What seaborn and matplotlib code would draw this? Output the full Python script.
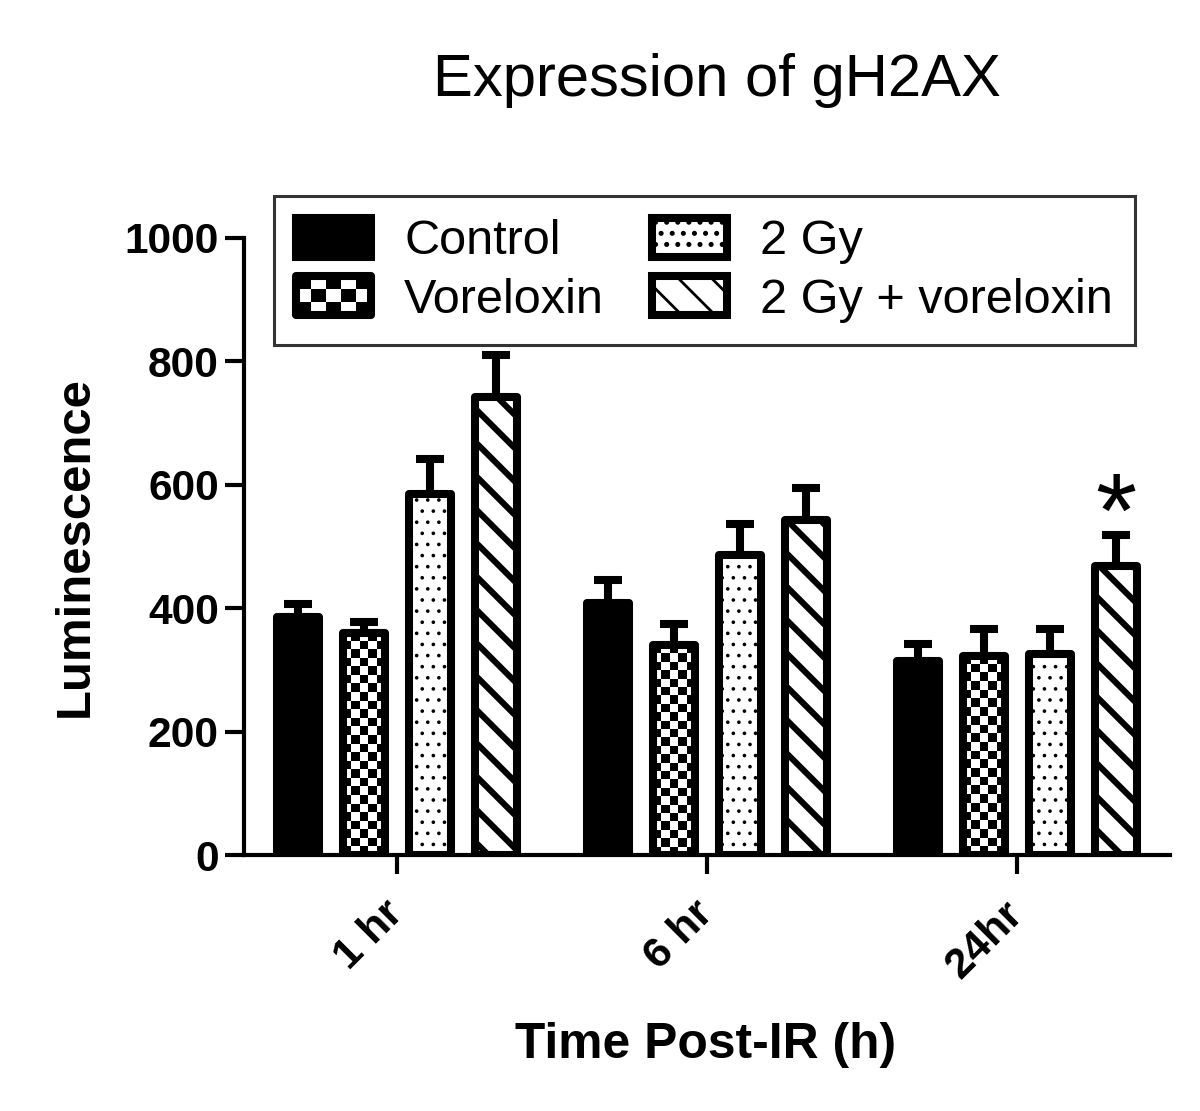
import numpy as np
import pandas as pd
import matplotlib
matplotlib.use("Agg")
import matplotlib.pyplot as plt
import seaborn as sns
from matplotlib.patches import Patch, Rectangle
from matplotlib.legend_handler import HandlerBase

# data (mean, SEM)
times = ["1 hr", "6 hr", "24hr"]
groups = ["Control", "Voreloxin", "2 Gy", "2 Gy + voreloxin"]
control_mean = [385, 408, 315]
control_sem = [22, 38, 27]
vorelox_mean = [360, 340, 323]
vorelox_sem = [17, 35, 44]
gy2_mean = [585, 487, 325]
gy2_sem = [57, 50, 42]
combo_mean = [742, 543, 468]
combo_sem = [68, 52, 50]
yticks = [0, 200, 400, 600, 800, 1000]

means = [control_mean, vorelox_mean, gy2_mean, combo_mean]
sems = [control_sem, vorelox_sem, gy2_sem, combo_sem]

rows = []
for g, m in zip(groups, means):
    for t, v in zip(times, m):
        rows.append({"time": t, "group": g, "mean": v})
df = pd.DataFrame(rows)

sns.set_style("ticks")
plt.rcParams["font.family"] = ["Liberation Sans", "DejaVu Sans"]
plt.rcParams.update({"text.color": "black", "axes.labelcolor": "black",
                     "xtick.color": "black", "ytick.color": "black",
                     "axes.edgecolor": "black"})

EDGE_LW = 2.9
# dpi 200 so the hatch cell (1 inch) gives roughly the stripe spacing of the original
fig = plt.figure(figsize=(6, 5.555), dpi=200)
ax = fig.add_axes([0.2033, 0.2304, 0.7717, 0.5554])

palette = {"Control": "black", "Voreloxin": "white", "2 Gy": "white",
           "2 Gy + voreloxin": "white"}
sns.barplot(data=df, x="time", y="mean", hue="group", hue_order=groups,
            palette=palette, width=0.852, gap=0.366, errorbar=None,
            edgecolor="black", linewidth=EDGE_LW, legend=False, ax=ax)

XLIM = (-0.494, 2.493)
ax.set_xlim(*XLIM)
ax.set_ylim(0, 1000)

hatches = {"Control": "", "Voreloxin": "", "2 Gy": "...", "2 Gy + voreloxin": "\\\\"}
hatch_lw = {"Control": 1.0, "Voreloxin": 1.0, "2 Gy": 0.5, "2 Gy + voreloxin": 2.2}

for g, cont, sem in zip(groups, ax.containers, sems):
    xs, tops = [], []
    for bar in cont:
        bar.set_joinstyle("round")
        bar.set_zorder(3)
        bar.set_hatch(hatches[g])
        if hasattr(bar, "set_hatch_linewidth"):
            bar.set_hatch_linewidth(hatch_lw[g])
        xs.append(bar.get_x() + bar.get_width() / 2)
        tops.append(bar.get_height())
        if g == "Voreloxin":
            # checkerboard fill clipped to the bar
            bar.set_facecolor("none")
            x0, y0 = bar.get_x(), 0
            x1, y1 = x0 + bar.get_width(), bar.get_height()
            p0 = ax.transData.transform((x0, y0))
            p1 = ax.transData.transform((x1, y1))
            nx = max(int(round((p1[0] - p0[0]) / 8.5)), 1)
            ny = max(int(round((p1[1] - p0[1]) / 8.5)), 1)
            board = np.indices((ny, nx)).sum(axis=0) % 2
            im = ax.imshow(board, cmap="gray", extent=[x0, x1, y0, y1],
                           origin="lower", aspect="auto",
                           interpolation="nearest", zorder=2.5)
            im.set_clip_path(bar)
    ax.errorbar(xs, tops, yerr=[np.zeros(len(sem)), sem], fmt="none",
                ecolor="black", elinewidth=EDGE_LW, capsize=5,
                capthick=EDGE_LW, zorder=2)
    if g == "2 Gy + voreloxin":
        ax.annotate("*", xy=(xs[2], tops[2] + sem[2]), xytext=(0, -4),
                    textcoords="offset points", ha="center", va="baseline",
                    fontsize=38, color="black")

ax.set_xlim(*XLIM)
ax.set_ylim(0, 1000)
ax.set_yticks(yticks)
ax.set_yticklabels([str(v) for v in yticks], fontsize=15.3, fontweight="bold")
ax.set_xticks(range(len(times)))
ax.set_xticklabels(times, fontsize=15.5, fontweight="bold", rotation=45,
                   ha="right", va="center", rotation_mode="anchor")
ax.tick_params(axis="y", length=7, width=1.5, pad=2)
ax.tick_params(axis="x", length=7, width=1.5, pad=12)
for s in ["left", "bottom"]:
    ax.spines[s].set_linewidth(1.5)
    ax.spines[s].set_color("black")
sns.despine(ax=ax)

ax.set_ylabel("Luminescence", fontsize=17.7, fontweight="bold")
ax.yaxis.set_label_coords(-0.158, 0.5)
ax.set_xlabel("Time Post-IR (h)", fontsize=17.9, fontweight="bold")
ax.xaxis.set_label_coords(0.498, -0.27)

fig.text(717 / 1200, 1 - 80 / 1111, "Expression of gH2AX", fontsize=21.5,
         ha="center", va="center")


class CheckerHandler(HandlerBase):
    def create_artists(self, legend, orig_handle, xdescent, ydescent,
                       width, height, fontsize, trans):
        arts = []
        x0, y0 = -xdescent, -ydescent
        nx, ny = 5, 3
        cw, ch = width / nx, height / ny
        for i in range(nx):
            for j in range(ny):
                if (i + j) % 2 == 0:
                    arts.append(Rectangle((x0 + i * cw, y0 + j * ch), cw, ch,
                                          facecolor="black", edgecolor="none",
                                          transform=trans))
        arts.append(Rectangle((x0, y0), width, height, facecolor="none",
                              edgecolor="black", lw=EDGE_LW, joinstyle="round",
                              transform=trans))
        return arts


handles = []
for g in groups:
    p = Patch(facecolor=palette[g], edgecolor="black", lw=EDGE_LW,
              hatch=hatches[g], joinstyle="round")
    if hasattr(p, "set_hatch_linewidth"):
        p.set_hatch_linewidth(hatch_lw[g])
    handles.append(p)

leg = ax.legend(handles, groups, ncol=2, loc="upper left",
                bbox_to_anchor=(0.0324, 1.068), borderaxespad=0,
                fontsize=17.5, frameon=True, fancybox=False,
                handlelength=1.55, handleheight=0.86, handletextpad=0.68,
                columnspacing=0.98, labelspacing=0.25, borderpad=0.45,
                handler_map={handles[1]: CheckerHandler()})
leg.get_frame().set_edgecolor("black")
leg.get_frame().set_linewidth(1.1)
leg.set_zorder(5)

fig.savefig("out.png", dpi=200)
